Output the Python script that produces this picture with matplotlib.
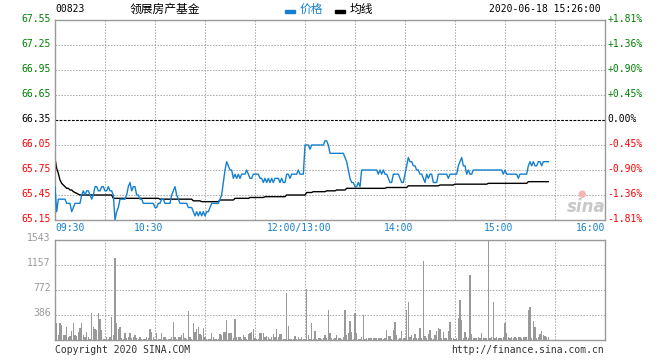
import numpy as np
import matplotlib.pyplot as plt
from matplotlib import transforms
from matplotlib.patches import Rectangle

# minute index: 0 = 09:30, 150 = 12:00/13:00, 330 = 16:00
price = [
    65.55, 65.25, 65.40, 65.40, 65.40, 65.40, 65.40, 65.35, 65.35, 65.35,
    65.25, 65.30, 65.35, 65.35, 65.35, 65.35, 65.45, 65.50, 65.45, 65.50,
    65.50, 65.45, 65.40, 65.45, 65.55, 65.55, 65.50, 65.50, 65.55, 65.55,
    65.50, 65.50, 65.55, 65.50, 65.50, 65.45, 65.15, 65.25, 65.30, 65.40,
    65.40, 65.40, 65.40, 65.45, 65.55, 65.60, 65.50, 65.55, 65.55, 65.45,
    65.45, 65.40, 65.40, 65.35, 65.35, 65.35, 65.35, 65.35, 65.35, 65.35,
    65.30, 65.30, 65.35, 65.35, 65.40, 65.40, 65.35, 65.35, 65.35, 65.35,
    65.45, 65.50, 65.55, 65.45, 65.40, 65.35, 65.35, 65.35, 65.35, 65.35,
    65.30, 65.30, 65.30, 65.25, 65.20, 65.25, 65.20, 65.25, 65.20, 65.25,
    65.20, 65.25, 65.25, 65.30, 65.35, 65.35, 65.35, 65.35, 65.35, 65.40,
    65.45, 65.60, 65.75, 65.85, 65.80, 65.75, 65.75, 65.65, 65.70, 65.65,
    65.70, 65.65, 65.70, 65.70, 65.70, 65.75, 65.70, 65.65, 65.65, 65.70,
    65.70, 65.70, 65.70, 65.65, 65.65, 65.60, 65.65, 65.60, 65.65, 65.60,
    65.65, 65.60, 65.65, 65.65, 65.65, 65.60, 65.65, 65.60, 65.60, 65.70,
    65.70, 65.65, 65.70, 65.70, 65.70, 65.70, 65.75, 65.70, 65.70, 65.70,
    66.05, 66.05, 66.05, 66.00, 66.05, 66.05, 66.05, 66.05, 66.05, 66.05,
    66.05, 66.05, 66.10, 66.10, 66.05, 65.95, 65.95, 65.95, 65.95, 65.95,
    65.95, 65.95, 65.95, 65.95, 65.90, 65.85, 65.75, 65.65, 65.60, 65.60,
    65.55, 65.55, 65.60, 65.55, 65.75, 65.75, 65.75, 65.75, 65.75, 65.75,
    65.75, 65.75, 65.75, 65.75, 65.70, 65.75, 65.70, 65.75, 65.70, 65.70,
    65.65, 65.60, 65.60, 65.70, 65.70, 65.70, 65.70, 65.65, 65.60, 65.60,
    65.70, 65.80, 65.90, 65.85, 65.85, 65.80, 65.80, 65.75, 65.75, 65.70,
    65.70, 65.65, 65.60, 65.70, 65.65, 65.70, 65.70, 65.60, 65.60, 65.60,
    65.70, 65.70, 65.70, 65.70, 65.70, 65.70, 65.65, 65.70, 65.70, 65.70,
    65.70, 65.70, 65.80, 65.85, 65.90, 65.80, 65.80, 65.70, 65.75, 65.70,
    65.70, 65.75, 65.75, 65.75, 65.75, 65.75, 65.75, 65.75, 65.75, 65.75,
    65.75, 65.75, 65.75, 65.75, 65.75, 65.75, 65.75, 65.75, 65.75, 65.70,
    65.75, 65.70, 65.70, 65.70, 65.70, 65.70, 65.70, 65.70, 65.65, 65.70,
    65.70, 65.70, 65.70, 65.70, 65.80, 65.85, 65.80, 65.85, 65.80, 65.80,
    65.85, 65.85, 65.80, 65.85, 65.85, 65.85, 65.85,
]

avg_line = [
    65.89, 65.77, 65.71, 65.63, 65.59, 65.57, 65.55, 65.53, 65.53, 65.51,
    65.51, 65.49, 65.48, 65.47, 65.46, 65.45, 65.45, 65.45, 65.45, 65.45,
    65.45, 65.45, 65.45, 65.45, 65.45, 65.45, 65.45, 65.45, 65.45, 65.45,
    65.45, 65.45, 65.45, 65.45, 65.45, 65.41, 65.41, 65.41, 65.41, 65.41,
    65.41, 65.41, 65.41, 65.41, 65.41, 65.41, 65.41, 65.41, 65.41, 65.41,
    65.41, 65.41, 65.41, 65.41, 65.41, 65.41, 65.41, 65.41, 65.41, 65.41,
    65.41, 65.41, 65.41, 65.40, 65.40, 65.40, 65.40, 65.40, 65.40, 65.40,
    65.40, 65.40, 65.40, 65.40, 65.40, 65.40, 65.40, 65.40, 65.40, 65.40,
    65.40, 65.40, 65.40, 65.38, 65.38, 65.38, 65.38, 65.38, 65.37, 65.37,
    65.37, 65.37, 65.37, 65.37, 65.37, 65.37, 65.37, 65.37, 65.37, 65.39,
    65.39, 65.39, 65.39, 65.39, 65.39, 65.39, 65.39, 65.39, 65.41, 65.41,
    65.41, 65.41, 65.41, 65.41, 65.41, 65.41, 65.41, 65.42, 65.42, 65.42,
    65.42, 65.42, 65.42, 65.42, 65.42, 65.42, 65.43, 65.43, 65.43, 65.43,
    65.43, 65.43, 65.43, 65.43, 65.43, 65.43, 65.43, 65.43, 65.43, 65.45,
    65.45, 65.45, 65.45, 65.45, 65.45, 65.45, 65.45, 65.45, 65.45, 65.45,
    65.45, 65.48, 65.48, 65.48, 65.48, 65.49, 65.49, 65.49, 65.49, 65.49,
    65.49, 65.49, 65.49, 65.50, 65.50, 65.50, 65.50, 65.50, 65.50, 65.51,
    65.51, 65.51, 65.51, 65.51, 65.51, 65.53, 65.53, 65.53, 65.53, 65.53,
    65.53, 65.53, 65.53, 65.53, 65.53, 65.53, 65.53, 65.53, 65.53, 65.53,
    65.53, 65.53, 65.53, 65.53, 65.53, 65.53, 65.53, 65.53, 65.53, 65.54,
    65.54, 65.54, 65.54, 65.54, 65.54, 65.54, 65.54, 65.54, 65.54, 65.54,
    65.54, 65.54, 65.56, 65.56, 65.56, 65.56, 65.56, 65.56, 65.56, 65.56,
    65.56, 65.56, 65.56, 65.56, 65.56, 65.56, 65.56, 65.56, 65.56, 65.56,
    65.56, 65.57, 65.57, 65.57, 65.57, 65.57, 65.57, 65.57, 65.57, 65.57,
    65.58, 65.58, 65.58, 65.58, 65.58, 65.58, 65.58, 65.58, 65.58, 65.58,
    65.58, 65.58, 65.58, 65.58, 65.58, 65.58, 65.58, 65.58, 65.58, 65.58,
    65.59, 65.59, 65.59, 65.59, 65.59, 65.59, 65.59, 65.59, 65.59, 65.59,
    65.59, 65.59, 65.59, 65.59, 65.59, 65.59, 65.59, 65.59, 65.59, 65.59,
    65.59, 65.59, 65.59, 65.59, 65.61, 65.61, 65.61, 65.61, 65.61, 65.61,
    65.61, 65.61, 65.61, 65.61, 65.61, 65.61, 65.61,
]

volume = [
    60, 257, 77, 257, 231, 77, 77, 206, 51, 62,
    144, 257, 77, 62, 128, 180, 257, 77, 51, 128,
    51, 21, 411, 195, 164, 154, 411, 319, 154, 21,
    21, 41, 10, 41, 350, 77, 1270, 257, 164, 206,
    26, 21, 113, 26, 41, 103, 31, 41, 77, 31,
    21, 41, 21, 15, 15, 51, 31, 164, 128, 51,
    21, 103, 21, 21, 103, 51, 51, 10, 21, 21,
    41, 278, 41, 21, 41, 41, 77, 113, 36, 21,
    447, 51, 21, 257, 128, 170, 206, 93, 77, 180,
    51, 21, 21, 21, 103, 51, 21, 21, 21, 93,
    77, 128, 118, 308, 113, 103, 103, 26, 319, 51,
    41, 41, 21, 77, 51, 21, 93, 113, 128, 164,
    26, 21, 21, 113, 113, 113, 51, 62, 41, 21,
    51, 93, 41, 164, 51, 93, 87, 21, 21, 720,
    216, 21, 21, 21, 62, 21, 41, 21, 41, 21,
    21, 781, 77, 21, 257, 21, 139, 21, 26, 26,
    10, 26, 77, 26, 463, 113, 26, 10, 26, 77,
    26, 26, 10, 51, 463, 77, 113, 298, 128, 21,
    421, 103, 21, 10, 51, 386, 10, 26, 26, 36,
    26, 36, 26, 36, 26, 26, 36, 10, 26, 154,
    62, 62, 10, 154, 283, 77, 10, 26, 139, 26,
    26, 463, 591, 51, 77, 26, 93, 26, 26, 180,
    26, 1218, 62, 26, 93, 154, 26, 10, 77, 139,
    180, 175, 26, 128, 26, 26, 139, 283, 26, 26,
    10, 26, 334, 617, 308, 26, 123, 51, 26, 1002,
    93, 26, 36, 36, 51, 26, 103, 36, 36, 26,
    1532, 26, 51, 591, 26, 51, 26, 26, 26, 51,
    257, 103, 51, 26, 51, 26, 51, 26, 51, 51,
    26, 51, 51, 51, 463, 514, 26, 298, 206, 26,
    51, 93, 139, 77, 62, 51, 41,
]

prev_close = 66.35
price_ticks = [65.15, 65.45, 65.75, 66.05, 66.35, 66.65, 66.95, 67.25, 67.55]
pct_labels = ['-1.81%', '-1.36%', '-0.90%', '-0.45%', '0.00%',
              '+0.45%', '+0.90%', '+1.36%', '+1.81%']
grid_minutes = [0, 30, 60, 90, 120, 150, 180, 210, 240, 270, 300, 330]
time_ticks = [0, 60, 150, 210, 270, 330]
time_labels = ['09:30', '10:30', '12:00/13:00', '14:00', '15:00', '16:00']
vol_ticks = [386, 772, 1157, 1543]
vol_max = 1543

BLUE = '#1580d0'
GRID = '#aaaaaa'
FRAME = '#999999'
MONO = 'DejaVu Sans Mono'
CJK = ['Noto Sans CJK SC', 'DejaVu Sans']

W, H = 660, 360
fig = plt.figure(figsize=(W / 100, H / 100), dpi=100)


def fx(px):
    return px / W


def fy(py):
    return 1 - py / H


def shift(label, dx, dy):
    off = transforms.ScaledTranslation(dx / 100, dy / 100, fig.dpi_scale_trans)
    label.set_transform(label.get_transform() + off)


ax = fig.add_axes([fx(55), fy(220), 550 / W, 200 / H])
axv = fig.add_axes([fx(55), fy(340), 550 / W, 100 / H])

for a in (ax, axv):
    for s in a.spines.values():
        s.set_color(FRAME)
        s.set_linewidth(1.0)
    a.set_xlim(0, 330)
    for m in grid_minutes[1:-1]:
        a.axvline(m, color=GRID, lw=0.75, ls=(0, (1.4, 1.4)), zorder=0)
    a.tick_params(length=0)

# price panel
for p in price_ticks[1:-1]:
    if p == prev_close:
        ax.axhline(p, color='black', lw=0.8, ls=(0, (2.5, 1.2)), zorder=1)
    else:
        ax.axhline(p, color=GRID, lw=0.75, ls=(0, (1.4, 1.4)), zorder=0)

ax.plot(np.arange(len(price)), price, color=BLUE, lw=1.0, zorder=3)
ax.plot(np.arange(len(avg_line)), avg_line, color='black', lw=1.0, zorder=2)
ax.set_ylim(price_ticks[0], price_ticks[-1])

ax.set_yticks(price_ticks, ['%.2f' % p for p in price_ticks])
ax.set_xticks(time_ticks, time_labels)
ax.tick_params(axis='y', pad=3, labelsize=7)
ax.tick_params(axis='x', pad=2, labelsize=7, labelcolor=BLUE)
for lab in ax.get_yticklabels():
    lab.set_fontfamily(MONO)
for lab, p in zip(ax.get_yticklabels(), price_ticks):
    lab.set_color('green' if p > prev_close else ('red' if p < prev_close else 'black'))
    shift(lab, 0, 2)
xl = ax.get_xticklabels()
for i, lab in enumerate(xl):
    lab.set_fontfamily(MONO)
    if i == 0:
        lab.set_ha('left')
    elif i == len(xl) - 1:
        lab.set_ha('right')
    else:
        shift(lab, -6, 0)

axr = ax.twinx()
axr.set_ylim(ax.get_ylim())
axr.set_yticks(price_ticks, pct_labels)
axr.tick_params(length=0, pad=2, labelsize=7)
for s in axr.spines.values():
    s.set_visible(False)
for lab, p in zip(axr.get_yticklabels(), price_ticks):
    lab.set_fontfamily(MONO)
    lab.set_color('green' if p > prev_close else ('red' if p < prev_close else 'black'))
    shift(lab, 0, 2)

# volume panel
for v in vol_ticks[:-1]:
    axv.axhline(v, color=GRID, lw=0.75, ls=(0, (1.4, 1.4)), zorder=0)
axv.bar(np.arange(len(volume)), volume, width=0.7, color='#999999', lw=0, zorder=2)
axv.set_ylim(0, vol_max)
axv.set_yticks(vol_ticks, [str(v) for v in vol_ticks])
axv.set_xticks([])
axv.tick_params(axis='y', pad=3, labelsize=7, labelcolor='#999999')
for lab in axv.get_yticklabels():
    lab.set_fontfamily(MONO)
    shift(lab, 0, 3)

# header
fig.text(fx(55), fy(9), '00823', family=MONO, size=7, va='center')
fig.text(fx(130), fy(9), '领展房产基金', family=CJK, size=8.5, va='center')
fig.patches.append(Rectangle((fx(285), fy(13)), 10 / W, 3 / H,
                             transform=fig.transFigure, color=BLUE))
fig.text(fx(300), fy(9), '价格', family=CJK, size=8.5, va='center', color=BLUE)
fig.patches.append(Rectangle((fx(335), fy(13)), 10 / W, 3 / H,
                             transform=fig.transFigure, color='black'))
fig.text(fx(350), fy(9), '均线', family=CJK, size=8.5, va='center')
fig.text(fx(601), fy(9), '2020-06-18 15:26:00', family=MONO, size=7,
         va='center', ha='right')

# footer
fig.text(fx(55), fy(350), 'Copyright 2020 SINA.COM', family=MONO, size=7,
         va='center', color='#333333')
fig.text(fx(604), fy(350), 'http://finance.sina.com.cn', family=MONO, size=7,
         va='center', ha='right', color='#333333')

# watermark
fig.text(fx(586), fy(207), 'sina', size=12, style='italic', weight='bold',
         color='#c8c8c8', ha='center', va='center')
fig.text(fx(582), fy(194), '●', size=7, color='#f4b6b6', ha='center', va='center')

fig.savefig('out.png', dpi=100)
